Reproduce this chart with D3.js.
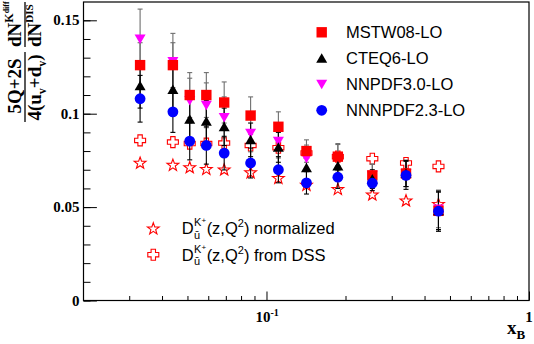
<!DOCTYPE html>
<html>
<head>
<meta charset="utf-8">
<script src="https://cdn.jsdelivr.net/npm/d3@7"></script>
<style>
  body { margin: 0; background: #fff; }
  svg { display: block; }
  .num { font-family: "Liberation Serif", "Times New Roman", serif; font-weight: bold; font-size: 15px; }
  .ylab { font-family: "Liberation Serif", "Times New Roman", serif; font-weight: bold; font-size: 19px; }
  .leg { font-family: "Liberation Sans", Arial, sans-serif; font-size: 16.5px; }
</style>
</head>
<body>
<svg id="chart" width="534" height="344"></svg>
<script>
// x_B bins
const xB = [0.033, 0.044, 0.051, 0.059, 0.069, 0.087, 0.111, 0.142, 0.187, 0.253, 0.340, 0.452]

// ratio for each PDF set, with errors
const mstw = [0.126, 0.126, 0.110, 0.110, 0.106, 0.099, 0.093, 0.080, 0.077, 0.067, 0.068, 0.048]
const mstwErr = [0.012, 0.012, 0.012, 0.012, 0.011, 0.010, 0.008, 0.006, 0.007, 0.006, 0.007, 0.011]
const cteq = [0.115, 0.113, 0.097, 0.096, 0.093, 0.086, 0.082, 0.071, 0.072, 0.065, 0.068, 0.048]
const cteqErr = [0.012, 0.012, 0.011, 0.011, 0.010, 0.009, 0.008, 0.006, 0.006, 0.005, 0.007, 0.010]
const nnpdf30 = [0.140, 0.128, 0.107, 0.1045, 0.098, 0.0896, 0.0853, 0.0762, 0.0765, 0.067, 0.068, 0.049]
const nnpdf30Err = [0.016, 0.015, 0.012, 0.012, 0.011, 0.010, 0.009, 0.007, 0.007, 0.006, 0.007, 0.010]
const nnpdf23 = [0.108, 0.101, 0.0853, 0.083, 0.0789, 0.0736, 0.070, 0.063, 0.066, 0.0628, 0.067, 0.0478]
const nnpdf23Err = [0.0125, 0.011, 0.010, 0.010, 0.009, 0.008, 0.007, 0.006, 0.006, 0.004, 0.0075, 0.0107]

// fragmentation function curves
const dNorm = [0.0738, 0.0727, 0.0714, 0.0705, 0.0702, 0.0687, 0.0657, 0.062, 0.0598, 0.0568, 0.0536, 0.0518]
const dDSS = [0.0857, 0.0848, 0.084, 0.084, 0.0843, 0.083, 0.0818, 0.079, 0.077, 0.0759, 0.0736, 0.0718]

const seriesNames = ['MSTW08-LO', 'CTEQ6-LO', 'NNPDF3.0-LO', 'NNNPDF2.3-LO']
const yTicks = [0, 0.05, 0.1, 0.15]
const yTickLabels = ['0', '0.05', '0.1', '0.15']

const svg = d3.select('#chart')
const x = d3.scaleLog().domain([0.02, 1]).range([83, 529])
const y = d3.scaleLinear().domain([0, 0.15]).range([300.5, 20.3])

// marker shapes
const shapes = {
  square: 'M-5.2,-5.2H5.2V5.2H-5.2Z',
  triUp: 'M0,-5L5.5,4.5L-5.5,4.5Z',
  triDown: 'M0,5L5.5,-4.5L-5.5,-4.5Z',
  circle: d3.symbol(d3.symbolCircle, Math.PI * 5.4 * 5.4)(),
  cross: 'M-2.2,-5.5H2.2V-2.2H5.5V2.2H2.2V5.5H-2.2V2.2H-5.5V-2.2H-2.2Z'
}
let star = ''
for (let k = 0; k < 10; k++) {
  const r = k % 2 ? 2.5 : 6.2
  const a = -Math.PI / 2 + k * Math.PI / 5
  star += (k ? 'L' : 'M') + (r * Math.cos(a)).toFixed(2) + ',' + (r * Math.sin(a) + 0.6).toFixed(2)
}
shapes.star = star + 'Z'

const sets = [
  { v: nnpdf30, e: nnpdf30Err, shape: 'triDown', fill: '#ff00ff', bar: '#6e6e6e' },
  { v: mstw, e: mstwErr, shape: 'square', fill: '#ff0000', bar: '#6e6e6e' },
  { v: cteq, e: cteqErr, shape: 'triUp', fill: '#000000', bar: '#000' },
  { v: nnpdf23, e: nnpdf23Err, shape: 'circle', fill: '#0000ff', bar: '#000' }
]

// axes ticks (ROOT style, pointing inward)
const minorX = [0.03, 0.04, 0.05, 0.06, 0.07, 0.08, 0.09, 0.2, 0.3, 0.4, 0.5, 0.6, 0.7, 0.8, 0.9]
svg.append('g').attr('transform', 'translate(0,300.5)')
  .call(d3.axisBottom(x).tickValues(minorX).tickSize(-4.5).tickFormat(''))
svg.append('g').attr('transform', 'translate(0,300.5)')
  .call(d3.axisBottom(x).tickValues([0.1, 1]).tickSize(-9).tickFormat(''))
const minorY = d3.range(0, 16).map((d) => d / 100)
svg.append('g').attr('transform', 'translate(83.5,0)')
  .call(d3.axisLeft(y).tickValues(minorY).tickSize(-7).tickFormat(''))
svg.append('g').attr('transform', 'translate(83.5,0)')
  .call(d3.axisLeft(y).tickValues(yTicks).tickSize(-13.4).tickFormat(''))
svg.selectAll('.domain').remove()
svg.selectAll('.tick line').attr('stroke', '#000').attr('stroke-width', 1)

svg.append('rect').attr('x', 83.5).attr('y', 2).attr('width', 445.5).attr('height', 298.5)
  .attr('fill', 'none').attr('stroke', '#000').attr('stroke-width', 1.2)

svg.append('g').selectAll('text').data(yTicks).enter().append('text')
  .attr('class', 'num').attr('text-anchor', 'end')
  .attr('x', 79.5).attr('y', (d) => y(d) + 5)
  .text((d, i) => yTickLabels[i])

const t10 = svg.append('text').attr('class', 'num').attr('x', x(0.1) - 11).attr('y', 321.7)
t10.append('tspan').text('10')
t10.append('tspan').style('font-size', '10px').attr('dy', -6).text('-1')
svg.append('text').attr('class', 'num').attr('text-anchor', 'middle')
  .attr('x', x(1)).attr('y', 321.7).text('1')

const xl = svg.append('text').attr('class', 'num').style('font-size', '19px').attr('x', 507).attr('y', 334.3)
xl.append('tspan').text('x')
xl.append('tspan').style('font-size', '13px').attr('dy', 5).text('B')

// y-axis label, rotated
const yl = svg.append('g').attr('class', 'ylab').attr('transform', 'rotate(-90)')
yl.append('line').attr('x1', -122).attr('x2', -52).attr('y1', 25).attr('y2', 25)
  .attr('stroke', '#000').attr('stroke-width', 1.3)
yl.append('line').attr('x1', -47).attr('x2', -2).attr('y1', 25).attr('y2', 25)
  .attr('stroke', '#000').attr('stroke-width', 1.3)
yl.append('text').attr('text-anchor', 'middle').attr('x', -86).attr('y', 21).text('5Q+2S')
const den = yl.append('text').attr('text-anchor', 'middle').attr('x', -87.5).attr('y', 40.6)
den.append('tspan').text('4(u')
den.append('tspan').style('font-size', '12px').attr('dy', 5).text('v')
den.append('tspan').attr('dy', -5).text('+d')
den.append('tspan').style('font-size', '12px').attr('dy', 5).text('v')
den.append('tspan').attr('dy', -5).text(')')
const n2 = yl.append('text').attr('x', -47).attr('y', 21)
n2.append('tspan').text('dN')
n2.append('tspan').style('font-size', '12px').attr('dy', -8).text('K')
n2.append('tspan').style('font-size', '8px').attr('dy', -4).text('diff')
const d2 = yl.append('text').attr('x', -47).attr('y', 40.6)
d2.append('tspan').text('dN')
d2.append('tspan').style('font-size', '11px').attr('dy', -8).text('DIS')

// hollow markers
const hollow = svg.append('g').attr('fill', '#fff').attr('stroke', '#ff0000').attr('stroke-width', 1.1)
hollow.selectAll('.st').data(xB).enter().append('path')
  .attr('d', shapes.star)
  .attr('transform', (d, i) => 'translate(' + x(d) + ',' + y(dNorm[i]) + ')')
hollow.selectAll('.cr').data(xB).enter().append('path')
  .attr('d', shapes.cross)
  .attr('transform', (d, i) => 'translate(' + x(d) + ',' + y(dDSS[i]) + ')')

// error bars
sets.forEach((s) => {
  const g = svg.append('g').attr('stroke', s.bar).attr('stroke-width', 1.1)
  xB.forEach((d, i) => {
    const cx = x(d)
    const lo = y(s.v[i] - s.e[i])
    const hi = y(s.v[i] + s.e[i])
    g.append('line').attr('x1', cx).attr('x2', cx).attr('y1', lo).attr('y2', hi)
    g.append('line').attr('x1', cx - 2.5).attr('x2', cx + 2.5).attr('y1', lo).attr('y2', lo)
    g.append('line').attr('x1', cx - 2.5).attr('x2', cx + 2.5).attr('y1', hi).attr('y2', hi)
  })
})

// filled markers
sets.forEach((s) => {
  svg.append('g').selectAll('path').data(xB).enter().append('path')
    .attr('d', shapes[s.shape]).attr('fill', s.fill)
    .attr('transform', (d, i) => 'translate(' + x(d) + ',' + y(s.v[i]) + ')')
})

// legend 1
const legOrder = [1, 2, 0, 3]
legOrder.forEach((si, row) => {
  const cy = 32.3 + row * 26
  svg.append('path').attr('d', shapes[sets[si].shape]).attr('fill', sets[si].fill)
    .attr('transform', 'translate(321.7,' + cy + ')')
  svg.append('text').attr('class', 'leg').attr('x', 346).attr('y', cy + 6).text(seriesNames[row])
})

// legend 2
const leg2 = [[' normalized', 'star'], [' from DSS', 'cross']]
leg2.forEach((l, row) => {
  const base = 234.3 + row * 26.4
  svg.append('path').attr('d', shapes[l[1]]).attr('fill', '#fff')
    .attr('stroke', '#ff0000').attr('stroke-width', 1.1)
    .attr('transform', 'translate(153.3,' + (base - 6) + ')')
  const D = svg.append('text').attr('class', 'leg').attr('x', 181.7).attr('y', base).text('D')
  const x0 = 181.7 + D.node().getComputedTextLength() + 0.5
  const sub = svg.append('text').attr('class', 'leg').style('font-size', '11px')
    .attr('x', x0).attr('y', base + 4.5).text('ū')
  const sup = svg.append('text').attr('class', 'leg').style('font-size', '11px')
    .attr('x', x0).attr('y', base - 8)
  sup.append('tspan').text('K')
  sup.append('tspan').style('font-size', '8px').attr('dy', -3).text('+')
  const x1 = x0 + Math.max(sub.node().getComputedTextLength(), sup.node().getComputedTextLength()) + 0.5
  const rest = svg.append('text').attr('class', 'leg').attr('x', x1).attr('y', base)
  rest.append('tspan').text('(z,Q')
  rest.append('tspan').style('font-size', '11px').attr('dy', -7).text('2')
  rest.append('tspan').attr('dy', 7).text(')' + l[0])
})
</script>
</body>
</html>
